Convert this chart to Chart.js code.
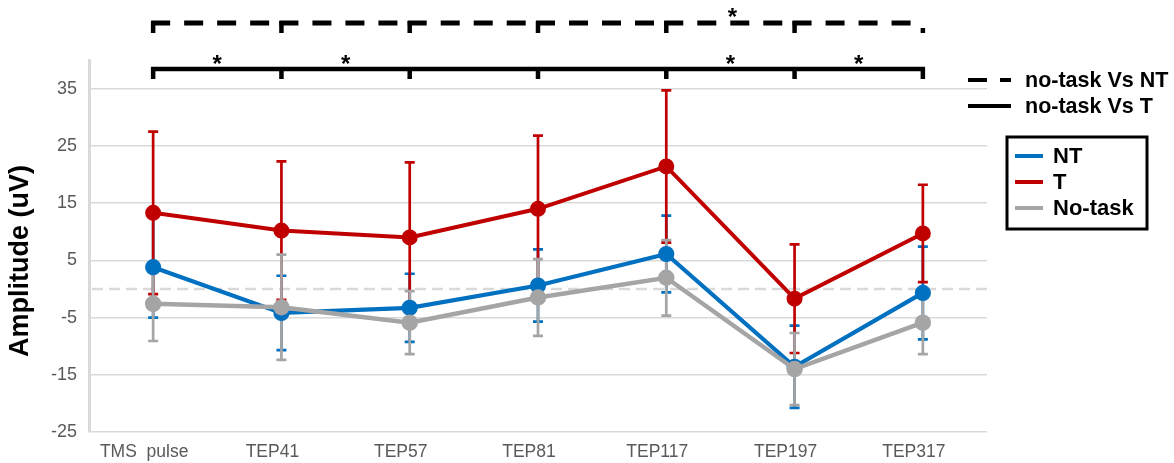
<!DOCTYPE html>
<html><head><meta charset="utf-8">
<script src="https://cdn.jsdelivr.net/npm/chart.js@4"></script>
<style>html,body{margin:0;padding:0;background:#fff}#wrap{width:1174px;height:463px}</style>
</head><body><div id="wrap"><canvas id="c" width="1174" height="463"></canvas></div>
<script>
const categories = ["TMS  pulse","TEP41","TEP57","TEP81","TEP117","TEP197","TEP317"];
const ntMean = [3.8, -4.2, -3.3, 0.6, 6.1, -13.6, -0.7];
const ntSD   = [8.8, 6.5, 5.95, 6.3, 6.7, 7.2, 8.1];
const tMean  = [13.3, 10.2, 9.0, 14.0, 21.4, -1.7, 9.7];
const tSD    = [14.2, 12.1, 13.1, 12.8, 13.3, 9.5, 8.5];
const noMean = [-2.6, -3.2, -5.9, -1.5, 1.95, -14.0, -5.9];
const noSD   = [6.5, 9.2, 5.5, 6.7, 6.6, 6.3, 5.5];
const yTicks = [-25, -15, -5, 5, 15, 25, 35];
const solidStarPairs = [[0,1],[1,2],[4,5],[5,6]];
const dashedStarPairs = [[4,5]];
const bracketLegend = ["no-task Vs NT", "no-task Vs T"];
const yTitle = "Amplitude (uV)";

const FONT = "'Liberation Sans', Arial, sans-serif";
const BLUE = "#0070C0", RED = "#C00000", GREY = "#A5A5A5";

const errPlugin = {
  id: 'errbars',
  beforeDatasetsDraw(chart) {
    const ctx = chart.ctx, x = chart.scales.x, y = chart.scales.y;
    const a = chart.chartArea, py0 = y.getPixelForValue(0);
    ctx.save();
    ctx.strokeStyle = "#D9D9D9"; ctx.lineWidth = 2.5; ctx.setLineDash([11, 6]);
    ctx.beginPath(); ctx.moveTo(a.left + 3, py0); ctx.lineTo(a.right, py0); ctx.stroke();
    ctx.restore();
    chart.data.datasets.forEach(ds => {
      ctx.save();
      ctx.strokeStyle = ds.borderColor;
      ctx.lineWidth = 2.7;
      ds.data.forEach((v, i) => {
        const px = x.getPixelForValue(i);
        const top = y.getPixelForValue(v + ds.sd[i]);
        const bot = y.getPixelForValue(v - ds.sd[i]);
        ctx.beginPath();
        ctx.moveTo(px, top); ctx.lineTo(px, bot);
        ctx.moveTo(px - 5, top); ctx.lineTo(px + 5, top);
        ctx.moveTo(px - 5, bot); ctx.lineTo(px + 5, bot);
        ctx.stroke();
      });
      ctx.restore();
    });
  }
};

const annoPlugin = {
  id: 'anno',
  afterDraw(chart) {
    const ctx = chart.ctx, x = chart.scales.x;
    const xs = categories.map((c, i) => x.getPixelForValue(i));
    ctx.save();
    ctx.save();
    ctx.translate(21, 261); ctx.rotate(-Math.PI / 2);
    ctx.font = "bold 27px " + FONT; ctx.fillStyle = "#000"; ctx.textAlign = "center"; ctx.textBaseline = "middle";
    ctx.fillText(yTitle, 0, 0);
    ctx.restore();
    ctx.strokeStyle = "#000"; ctx.fillStyle = "#000";
    const yd = 23, ys = 69;
    ctx.lineWidth = 5;
    ctx.setLineDash([19, 14]);
    for (let i = 0; i < xs.length - 1; i++) {
      ctx.beginPath(); ctx.moveTo(xs[i] - 2, yd); ctx.lineTo(xs[i + 1] - 10, yd); ctx.stroke();
    }
    ctx.setLineDash([]);
    ctx.lineWidth = 4.5;
    xs.forEach((px, i) => {
      ctx.beginPath(); ctx.moveTo(px, i === xs.length - 1 ? 28 : yd - 2); ctx.lineTo(px, 33); ctx.stroke();
    });
    ctx.beginPath(); ctx.moveTo(xs[0] - 2, ys); ctx.lineTo(xs[xs.length - 1] + 2, ys); ctx.stroke();
    xs.forEach(px => { ctx.beginPath(); ctx.moveTo(px, ys - 2); ctx.lineTo(px, 79); ctx.stroke(); });
    ctx.font = "bold 24px " + FONT; ctx.textAlign = "center"; ctx.textBaseline = "alphabetic";
    solidStarPairs.forEach(p => ctx.fillText("*", (xs[p[0]] + xs[p[1]]) / 2, 72));
    dashedStarPairs.forEach(p => ctx.fillText("*", (xs[p[0]] + xs[p[1]]) / 2 + 2, 25));
    ctx.lineWidth = 4;
    ctx.beginPath(); ctx.moveTo(968, 80); ctx.lineTo(987, 80); ctx.moveTo(1000, 80); ctx.lineTo(1011, 80); ctx.stroke();
    ctx.beginPath(); ctx.moveTo(968, 106); ctx.lineTo(1011, 106); ctx.stroke();
    ctx.font = "bold 21.5px " + FONT; ctx.textAlign = "left"; ctx.textBaseline = "middle";
    ctx.fillText(bracketLegend[0], 1025, 81);
    ctx.fillText(bracketLegend[1], 1025, 107);
    ctx.lineWidth = 3;
    ctx.strokeRect(1007, 137, 140, 92);
    ctx.font = "bold 22px " + FONT;
    chart.data.datasets.forEach((ds, k) => {
      const yy = 156 + k * 26;
      ctx.strokeStyle = ds.borderColor; ctx.lineWidth = 4;
      ctx.beginPath(); ctx.moveTo(1015, yy); ctx.lineTo(1043, yy); ctx.stroke();
      ctx.fillStyle = "#000";
      ctx.fillText(ds.label, 1053, yy + 1);
    });
    ctx.restore();
  }
};

new Chart(document.getElementById('c'), {
  type: 'line',
  data: {
    labels: categories,
    datasets: [
      { label: "NT", data: ntMean, sd: ntSD, borderColor: BLUE, backgroundColor: BLUE, borderWidth: 4.2, pointRadius: 6, pointHoverRadius: 6, order: 2, tension: 0 },
      { label: "T", data: tMean, sd: tSD, borderColor: RED, backgroundColor: RED, borderWidth: 4, pointRadius: 6, pointHoverRadius: 6, order: 3, tension: 0 },
      { label: "No-task", data: noMean, sd: noSD, borderColor: GREY, backgroundColor: GREY, borderWidth: 4.5, pointRadius: 6, pointHoverRadius: 6, order: 1, tension: 0 }
    ]
  },
  options: {
    responsive: false,
    animation: false,
    events: [],
    layout: { padding: { top: 60, right: 187, left: 0, bottom: 0 } },
    plugins: { legend: { display: false }, tooltip: { enabled: false } },
    scales: {
      x: {
        offset: true,
        grid: { display: false, drawTicks: false },
        border: { display: false },
        ticks: { color: "#595959", font: { family: FONT, size: 17.5 }, padding: 10, labelOffset: -9, maxRotation: 0, autoSkip: false },
        afterFit(s) { s.height = 31; }
      },
      y: {
        min: -25, max: 40,
        afterBuildTicks(s) { s.ticks = yTicks.map(v => ({ value: v })); },
        grid: { color: "#D9D9D9", lineWidth: 1.5, drawTicks: false },
        border: { display: true, color: "#D9D9D9", width: 3 },
        ticks: { color: "#595959", font: { family: FONT, size: 18 }, padding: 12 },
        afterFit(s) { s.width = 89; }
      }
    }
  },
  plugins: [errPlugin, annoPlugin]
});
</script>
</body></html>
